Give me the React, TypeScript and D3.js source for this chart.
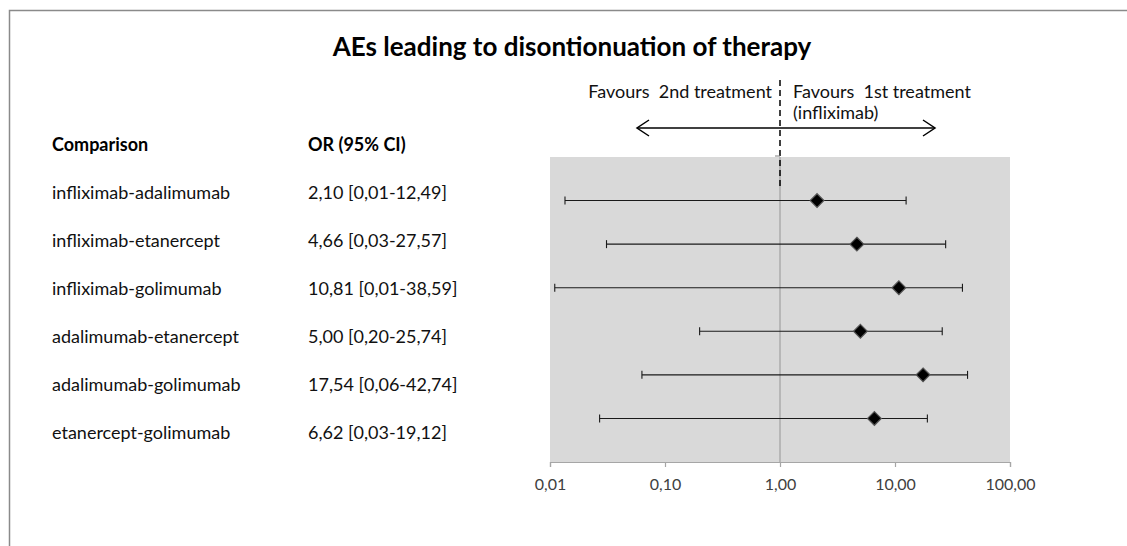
import React, { useEffect, useRef } from 'react';
import * as d3 from 'd3';

const comparisons = [
  'infliximab-adalimumab',
  'infliximab-etanercept',
  'infliximab-golimumab',
  'adalimumab-etanercept',
  'adalimumab-golimumab',
  'etanercept-golimumab',
];
const orLabels = [
  '2,10 [0,01-12,49]',
  '4,66 [0,03-27,57]',
  '10,81 [0,01-38,59]',
  '5,00 [0,20-25,74]',
  '17,54 [0,06-42,74]',
  '6,62 [0,03-19,12]',
];
const orValues = [2.10, 4.66, 10.81, 5.00, 17.54, 6.62];
const lowerCI = [0.0135, 0.031, 0.011, 0.20, 0.063, 0.027];
const upperCI = [12.49, 27.57, 38.59, 25.74, 42.74, 19.12];
const tickValues = [0.01, 0.1, 1, 10, 100];

const FONT = 'Lato, "Open Sans", sans-serif';

function App() {
  const ref = useRef<SVGSVGElement>(null);

  useEffect(() => {
    const svg = d3.select(ref.current);
    svg.selectAll('*').remove();

    const plot = { left: 550, right: 1010, top: 157, bottom: 462 };

    // frame around the whole chart
    svg.append('rect')
      .attr('x', 9.5).attr('y', 10.5)
      .attr('width', 1200).attr('height', 800)
      .attr('fill', 'none')
      .attr('stroke', '#8a8a8a')
      .attr('stroke-width', 1.5);

    svg.append('text')
      .attr('x', 572).attr('y', 56)
      .attr('text-anchor', 'middle')
      .attr('font-family', FONT)
      .attr('font-weight', 'bold')
      .attr('font-size', 26)
      .text('AEs leading to disontionuation of therapy');

    // table on the left
    svg.append('text')
      .attr('x', 52).attr('y', 151)
      .attr('font-family', FONT).attr('font-weight', 'bold').attr('font-size', 18)
      .text('Comparison');
    svg.append('text')
      .attr('x', 308).attr('y', 151)
      .attr('font-family', FONT).attr('font-weight', 'bold').attr('font-size', 18)
      .text('OR (95% CI)');

    const rowY = (i: number) => 199 + i * 48;
    svg.append('g').selectAll('text')
      .data(comparisons)
      .join('text')
      .attr('x', 52).attr('y', (d, i) => rowY(i))
      .attr('font-family', FONT).attr('font-size', 18)
      .attr('fill', '#111')
      .text(d => d);
    svg.append('g').selectAll('text')
      .data(orLabels)
      .join('text')
      .attr('x', 308).attr('y', (d, i) => rowY(i))
      .attr('font-family', FONT).attr('font-size', 18)
      .attr('fill', '#111')
      .text(d => d);

    const x = d3.scaleLog()
      .domain([0.01, 100])
      .range([plot.left, plot.right]);

    const y = d3.scaleLinear()
      .domain([0, 7])
      .range([plot.top, plot.bottom]);

    svg.append('rect')
      .attr('x', plot.left).attr('y', plot.top)
      .attr('width', plot.right - plot.left)
      .attr('height', plot.bottom - plot.top)
      .attr('fill', '#d9d9d9');

    // reference line at OR = 1
    svg.append('line')
      .attr('x1', x(1)).attr('x2', x(1))
      .attr('y1', plot.top).attr('y2', plot.bottom)
      .attr('stroke', '#a0a0a0').attr('stroke-width', 1.2);

    // x axis
    const axis = svg.append('g')
      .attr('transform', `translate(0,${plot.bottom})`)
      .call(d3.axisBottom(x)
        .tickValues(tickValues)
        .tickSize(5)
        .tickPadding(12)
        .tickFormat(d => d3.format('.2f')(d as number).replace('.', ',')));
    axis.select('.domain').attr('stroke', '#a6a6a6').attr('stroke-width', 1.2);
    axis.selectAll('.tick line').attr('stroke', '#a6a6a6').attr('stroke-width', 1.2);
    axis.selectAll('.tick text')
      .attr('font-family', FONT).attr('font-size', 16).attr('fill', '#404040');

    // error bars
    const bars = svg.append('g');
    bars.selectAll('line.ci')
      .data(orValues)
      .join('line')
      .attr('class', 'ci')
      .attr('x1', (d, i) => x(lowerCI[i]))
      .attr('x2', (d, i) => x(upperCI[i]))
      .attr('y1', (d, i) => y(i + 1)).attr('y2', (d, i) => y(i + 1))
      .attr('stroke', '#1a1a1a').attr('stroke-width', 1.1);
    bars.selectAll('line.lo')
      .data(lowerCI)
      .join('line')
      .attr('class', 'lo')
      .attr('x1', d => x(d)).attr('x2', d => x(d))
      .attr('y1', (d, i) => y(i + 1) - 4).attr('y2', (d, i) => y(i + 1) + 4)
      .attr('stroke', '#1a1a1a').attr('stroke-width', 1.1);
    bars.selectAll('line.hi')
      .data(upperCI)
      .join('line')
      .attr('class', 'hi')
      .attr('x1', d => x(d)).attr('x2', d => x(d))
      .attr('y1', (d, i) => y(i + 1) - 4).attr('y2', (d, i) => y(i + 1) + 4)
      .attr('stroke', '#1a1a1a').attr('stroke-width', 1.1);

    const diamond = d3.symbol().type(d3.symbolDiamond2).size(120);
    bars.selectAll('path')
      .data(orValues)
      .join('path')
      .attr('d', diamond)
      .attr('transform', (d, i) => `translate(${x(d)},${y(i + 1)})`)
      .attr('fill', '#000')
      .attr('stroke', '#555')
      .attr('stroke-width', 1.2);

    // favours annotation
    svg.append('line')
      .attr('x1', x(1)).attr('x2', x(1))
      .attr('y1', 80).attr('y2', 186)
      .attr('stroke', '#000').attr('stroke-width', 1.5)
      .attr('stroke-dasharray', '6,4');
    svg.append('line')
      .attr('x1', x(1) - 5).attr('x2', x(1))
      .attr('y1', plot.top - 1).attr('y2', plot.top - 1)
      .attr('stroke', '#808080').attr('stroke-width', 1);

    const ay = 128;
    svg.append('line')
      .attr('x1', 637).attr('x2', 935)
      .attr('y1', ay).attr('y2', ay)
      .attr('stroke', '#000').attr('stroke-width', 1.5);
    svg.append('path')
      .attr('d', `M649,${ay - 8} L637,${ay} L649,${ay + 8} M923,${ay - 8} L935,${ay} L923,${ay + 8}`)
      .attr('fill', 'none').attr('stroke', '#000').attr('stroke-width', 1.5);

    svg.append('text')
      .attr('x', 772).attr('y', 98)
      .attr('text-anchor', 'end')
      .attr('font-family', FONT).attr('font-size', 18).attr('fill', '#111')
      .style('white-space', 'pre')
      .text('Favours  2nd treatment');
    svg.append('text')
      .attr('x', 793).attr('y', 98)
      .attr('font-family', FONT).attr('font-size', 18).attr('fill', '#111')
      .style('white-space', 'pre')
      .text('Favours  1st treatment');
    svg.append('text')
      .attr('x', 793).attr('y', 119)
      .attr('font-family', FONT).attr('font-size', 18).attr('fill', '#111')
      .text('(infliximab)');
  }, []);

  return (
    <svg ref={ref} width={1127} height={546}
      style={{ position: 'absolute', left: 0, top: 0, background: '#fff' }} />
  );
}

export default App;
